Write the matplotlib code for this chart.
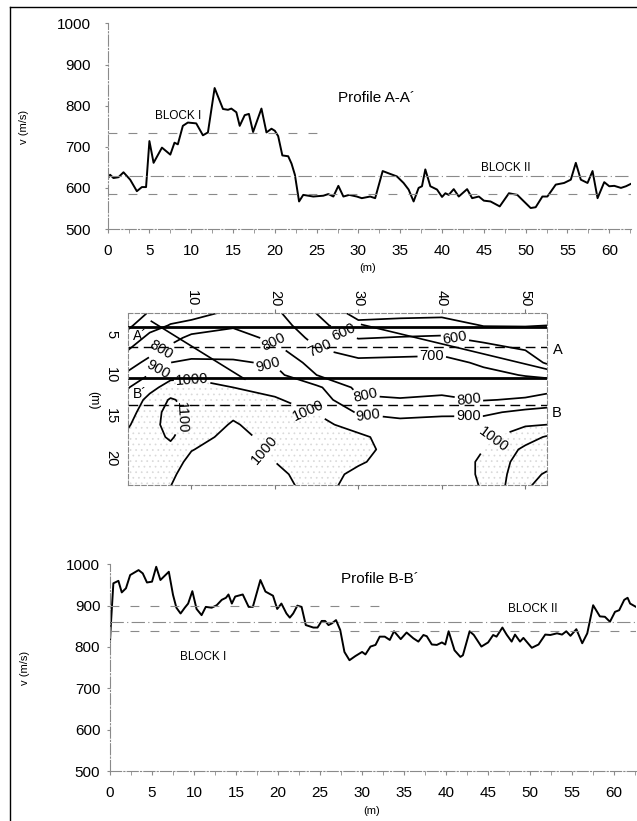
import matplotlib
matplotlib.use('Agg')
import matplotlib.pyplot as plt
from matplotlib.lines import Line2D
from matplotlib.ticker import MultipleLocator
import numpy as np

plt.rcParams['font.family'] = ['Liberation Sans', 'DejaVu Sans']
plt.rcParams['hatch.color'] = '#d9d9d9'
plt.rcParams['hatch.linewidth'] = 0.5

# profile A-A' (distance m, velocity m/s)
xa = [0, 0.3, 0.7, 1.3, 1.9, 2.7, 3.5, 4.1, 4.6, 5.0, 5.5, 6.5, 7.5, 8.0, 8.4, 9.0, 9.6, 10.6,
      11.4, 12.0, 12.8, 13.8, 14.4, 14.8, 15.4, 15.8, 16.4, 16.9, 17.4, 18.4, 19.0, 19.6, 20.0,
      20.4, 20.9, 21.6, 22.0, 22.4, 22.9, 23.4, 24.6, 25.8, 26.4, 27.0, 27.6, 28.2, 28.9, 29.8,
      30.4, 31.4, 32.0, 32.9, 33.8, 34.6, 35.4, 36.0, 36.6, 37.2, 37.6, 38.0, 38.6, 39.4, 40.0,
      40.4, 40.8, 41.4, 42.0, 43.0, 43.6, 44.4, 45.0, 45.8, 46.9, 48.0, 49.0, 49.8, 50.6, 51.2,
      52.0, 52.6, 53.6, 54.6, 55.4, 56.0, 56.6, 57.4, 58.0, 58.6, 59.4, 60.0, 60.6, 61.4, 62.0, 62.6]
va = [622, 632, 624, 626, 638, 620, 592, 602, 602, 714, 661, 698, 681, 710, 706, 751, 759, 757,
      728, 735, 843, 792, 790, 793, 784, 751, 777, 780, 736, 793, 735, 744, 739,
      726, 679, 677, 659, 632, 567, 583, 579, 581, 585, 579, 605, 579, 583, 579,
      575, 579, 575, 641, 634, 628, 612, 596, 567, 600, 604, 645, 604, 596, 578,
      587, 583, 597, 579, 597, 575, 579, 569, 567, 555, 587, 583, 567, 551, 553,
      579, 579, 608, 612, 620, 661, 620, 612, 641, 575, 614, 604, 605, 600, 604, 610]

# profile B-B'
xb = [0, 0.1, 0.4, 1.0, 1.4, 1.9, 2.4, 3.4, 3.9, 4.4, 5.0, 5.5, 6.0, 7.0, 7.5, 7.9, 8.4, 8.9,
      9.3, 9.8, 10.3, 10.9, 11.4, 12.1, 12.7, 13.3, 13.8, 14.1, 14.5, 14.9, 15.8, 16.5, 17.0,
      17.9, 18.5, 19.4, 19.9, 20.4, 21.0, 21.4, 21.8, 22.3, 22.8, 23.3, 24.2, 24.7, 25.2, 25.6,
      26.0, 26.4, 26.9, 27.4, 27.9, 28.5, 29.2, 30.0, 30.4, 31.0, 31.6, 32.1, 32.7, 33.3, 33.8,
      34.6, 35.3, 36.1, 36.7, 37.3, 37.7, 38.3, 38.9, 39.5, 39.9, 40.3, 41.0, 41.7, 42.0, 42.8,
      43.3, 44.2, 45.0, 45.6, 46.0, 46.7, 47.2, 47.8, 48.2, 48.8, 49.2, 50.2, 51.0, 51.8, 52.4,
      53.2, 53.8, 54.3, 54.8, 55.5, 56.2, 56.8, 57.5, 58.3, 58.9, 59.5, 60.1, 60.6, 61.2, 61.6,
      61.9, 62.6]
vb = [813, 853, 954, 960, 932, 942, 974, 986, 978, 956, 958, 994, 962, 982, 926, 895, 881, 895,
      905, 935, 892, 877, 897, 895, 901, 914, 919, 927, 905, 922, 927, 897, 897,
      962, 934, 924, 892, 905, 881, 871, 881, 900, 897, 853, 847, 847, 863, 863,
      853, 857, 865, 841, 788, 768, 778, 788, 782, 801, 805, 825, 825, 817, 838,
      819, 835, 821, 813, 829, 826, 806, 805, 811, 806, 838, 792, 776, 780, 838,
      829, 801, 811, 829, 825, 847, 830, 813, 830, 813, 822, 798, 806, 830, 829,
      833, 830, 838, 827, 843, 809, 833, 901, 874, 873, 861, 885, 889, 914, 919,
      905, 897]

# block reference levels: value, end of line (m), style
refa_v = [733, 628, 584]
refa_end = [26, 62.6, 62.6]
refb_v = [900, 861, 839]
refb_end = [32, 62.6, 62.6]
ref_style = [(0, (8, 10)), (0, (12, 3, 1, 3)), (0, (8, 10))]

# velocity section (m/s) on grid: columns = distance, rows = depth
grid_x = [2.4, 5, 7.5, 10, 15, 20, 25, 30, 35, 40, 45, 50, 52.6]
grid_z = [2.5, 4, 5.5, 7, 8.5, 10, 11.5, 13, 14.5, 16, 17.5, 19, 20.5, 22, 23.5]
col_v = [
    [530, 580, 640, 700, 758, 820, 895, 930, 960, 990, 1020, 1040, 1050, 1050, 1050],
    [610, 665, 725, 765, 830, 905, 970, 1030, 1060, 1070, 1070, 1060, 1050, 1040, 1030],
    [660, 705, 765, 830, 900, 970, 1040, 1110, 1130, 1130, 1110, 1080, 1050, 1020, 1000],
    [650, 740, 825, 865, 915, 980, 1040, 1070, 1080, 1070, 1050, 1005, 970, 950, 940],
    [730, 790, 835, 870, 910, 960, 1000, 1030, 1020, 990, 960, 940, 930, 920, 910],
    [720, 750, 780, 830, 890, 930, 970, 1010, 1040, 1050, 1040, 1020, 1000, 980, 970],
    [598, 630, 670, 710, 755, 800, 920, 955, 995, 1030, 1050, 1060, 1050, 1040, 1030],
    [460, 530, 595, 665, 720, 745, 775, 815, 890, 960, 1020, 1030, 1010, 980, 970],
    [470, 540, 605, 670, 725, 745, 770, 805, 875, 925, 950, 960, 960, 960, 960],
    [470, 555, 610, 675, 730, 750, 775, 815, 885, 930, 950, 960, 960, 960, 960],
    [440, 495, 575, 640, 685, 725, 760, 795, 880, 945, 975, 1000, 1010, 1010, 1005],
    [430, 495, 550, 600, 645, 695, 755, 810, 925, 990, 1060, 1120, 1150, 1170, 1190],
    [430, 500, 535, 560, 590, 680, 760, 840, 935, 1000, 1110, 1140, 1170, 1210, 1230],
]
levels = [500, 600, 700, 800, 900, 1000, 1100, 1200]
label_pos = [(28.0, 5.4), (41.6, 5.3), (25.4, 6.7), (38.8, 7.6), (6.4, 7.0), (19.8, 6.3),
             (30.8, 13.1), (43.2, 13.2), (6.0, 9.2), (19.2, 8.4), (31.2, 15.0), (43.2, 15.0),
             (10.1, 10.5), (24.0, 14.3), (18.4, 19.3), (46.3, 18.0), (7.8, 15.0)]
# profile lines (solid) and measured sections (dashed), depth in m
solid_z = [4.2, 10.4]
dash_z = [6.6, 13.6]
cut_x = [[5.2, 16.4], [30.4, 52.6]]
cut_z = [[3.5, 10.5], [3.9, 9.3]]

W, H = 637, 821
fig = plt.figure(figsize=(W / 100, H / 100), dpi=100)

def px_axes(l, t, r, b):
    return fig.add_axes([l / W, 1 - b / H, (r - l) / W, (b - t) / H])

def profile(ax, x, v, ref_v, ref_end, ypad):
    ax.plot(x, v, color='black', lw=1.4)
    for rv, re, st in zip(ref_v, ref_end, ref_style):
        ax.plot([0, re], [rv, rv], color='#8a8a8a', lw=0.8, ls=st)
    ax.set_xlim(0, 62.6)
    ax.set_ylim(500, 1000)
    ax.xaxis.set_minor_locator(MultipleLocator(2.5))
    ax.yaxis.set_major_locator(MultipleLocator(100))
    ax.set_xticks([0, 5, 10, 15, 20, 25, 30, 35, 40, 45, 50, 55, 60])
    for s in ['top', 'right']:
        ax.spines[s].set_visible(False)
    for s in ['left', 'bottom']:
        ax.spines[s].set_color('#8a8a8a')
        ax.spines[s].set_linewidth(0.8)
        ax.spines[s].set_linestyle((0, (10, 2, 1, 2)))
    ax.tick_params(axis='x', which='both', direction='out', length=3, color='#8a8a8a',
                   labelsize=11, pad=8)
    ax.tick_params(axis='y', direction='out', length=2, color='#8a8a8a', labelsize=11, pad=ypad)
    ax.patch.set_alpha(0)

# top: profile A-A'
ax1 = px_axes(107.6, 23.5, 631, 229)
profile(ax1, xa, va, refa_v, refa_end, 10)
fig.text(377 / W, 1 - 98 / H, 'Profile A-A\u00b4', fontsize=11, ha='center', va='center')
fig.text(178 / W, 1 - 116 / H, 'BLOCK I', fontsize=8.5, ha='center', va='center')
fig.text(506 / W, 1 - 168 / H, 'BLOCK II', fontsize=8.5, ha='center', va='center')
fig.text(368 / W, 1 - 268 / H, '(m)', fontsize=8, ha='center', va='center')
fig.text(24 / W, 1 - 127 / H, 'v (m/s)', fontsize=8, rotation=90, ha='center', va='center')

# middle: velocity section
ax2 = px_axes(128, 313, 547, 485)
V = np.array(col_v).T
ax2.contourf(grid_x, grid_z, V, levels=[1000, 1400], colors='none', hatches=['...'])
cs = ax2.contour(grid_x, grid_z, V, levels=levels, colors='black', linewidths=1.25)
ax2.clabel(cs, fmt='%d', fontsize=10.5, inline=True, inline_spacing=2, manual=label_pos)
for z in solid_z:
    ax2.axhline(z, color='black', lw=2.0)
for z in dash_z:
    ax2.axhline(z, color='black', lw=1.0, ls=(0, (7, 4)))
for cx, cz in zip(cut_x, cut_z):
    ax2.plot(cx, cz, color='black', lw=1.2)
ax2.set_xlim(2.4, 52.6)
ax2.set_ylim(23.3, 2.5)
ax2.set_xticks([10, 20, 30, 40, 50])
ax2.set_yticks([5, 10, 15, 20])
ax2.tick_params(axis='x', top=True, bottom=True, labeltop=True, labelbottom=False,
                labelrotation=-90, labelsize=10.5, length=3, color='#777777', pad=2)
ax2.tick_params(axis='y', labelrotation=-90, labelsize=10.5, length=0, pad=7)
for lab in ax2.get_yticklabels():
    lab.set_va('center')
for s in ax2.spines.values():
    s.set_color('#888888')
    s.set_linewidth(0.8)
    s.set_linestyle((0, (4, 2)))
ax2.text(3.0, 6.1, 'A\u00b4', fontsize=10, ha='left', va='bottom')
ax2.text(3.0, 13.1, 'B\u00b4', fontsize=10, ha='left', va='bottom')
ax2.text(53.9, 7.0, 'A', fontsize=10.5, ha='center', va='center', clip_on=False)
ax2.text(53.7, 14.6, 'B', fontsize=10.5, ha='center', va='center', clip_on=False)
fig.text(93 / W, 1 - 400 / H, '(m)', fontsize=9, rotation=-90, ha='center', va='center')

# bottom: profile B-B'
ax3 = px_axes(110, 564.3, 636, 771)
profile(ax3, xb, vb, refb_v, refb_end, 5)
fig.text(380 / W, 1 - 579 / H, 'Profile B-B\u00b4', fontsize=11, ha='center', va='center')
fig.text(203 / W, 1 - 657 / H, 'BLOCK I', fontsize=8.5, ha='center', va='center')
fig.text(533 / W, 1 - 609 / H, 'BLOCK II', fontsize=8.5, ha='center', va='center')
fig.text(372 / W, 1 - 811 / H, '(m)', fontsize=8, ha='center', va='center')
fig.text(25 / W, 1 - 668 / H, 'v (m/s)', fontsize=8, rotation=90, ha='center', va='center')

# scan frame
fig.add_artist(Line2D([10 / W, 10 / W], [0, 1 - 7 / H], color='black', lw=1))
fig.add_artist(Line2D([10 / W, 1], [1 - 7 / H, 1 - 7 / H], color='black', lw=1))

fig.savefig('out.png', dpi=100)
